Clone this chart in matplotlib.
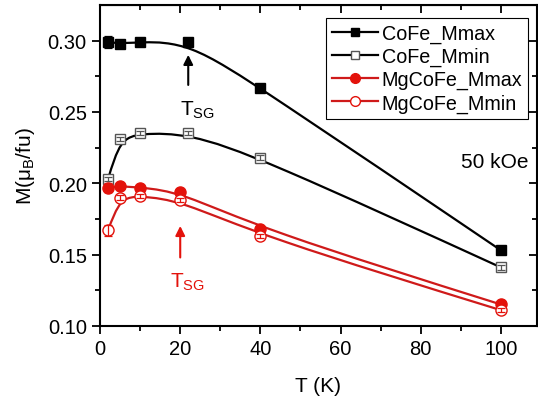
import matplotlib
matplotlib.use("Agg")
import matplotlib.pyplot as plt
from matplotlib.path import Path
from matplotlib.patches import PathPatch
from matplotlib.lines import Line2D
import numpy as np

plt.rcParams['font.family'] = ['Liberation Sans', 'DejaVu Sans']
plt.rcParams['mathtext.fontset'] = 'custom'
plt.rcParams['mathtext.rm'] = 'Liberation Sans'

# data
T_cofe = [2, 5, 10, 22, 40, 100]
cofe_max = [0.299, 0.298, 0.299, 0.299, 0.267, 0.153]
cofe_max_err = [0.004, 0.0, 0.0, 0.0, 0.0, 0.0]
cofe_min = [0.203, 0.231, 0.235, 0.235, 0.218, 0.141]
cofe_min_err = [0.0015, 0.0015, 0.0015, 0.0015, 0.0015, 0.0015]

T_mg = [2, 5, 10, 20, 40, 100]
mg_max = [0.197, 0.198, 0.197, 0.194, 0.168, 0.115]
mg_max_err = [0.003, 0.0, 0.0, 0.0, 0.0, 0.0]
mg_min = [0.167, 0.190, 0.191, 0.188, 0.163, 0.111]
mg_min_err = [0.004, 0.0015, 0.0015, 0.0015, 0.0015, 0.0015]

RED = '#e3120b'
RED_LINE = '#cf1a1a'


def bspline_path(x, y):
    # Origin style B-spline: the points act as control points
    p = np.column_stack([x, y]).astype(float)
    q = np.vstack([2 * p[0] - p[1], p, 2 * p[-1] - p[-2]])
    verts = [tuple((q[0] + 4 * q[1] + q[2]) / 6.0)]
    codes = [Path.MOVETO]
    for i in range(len(q) - 3):
        b1 = (2 * q[i + 1] + q[i + 2]) / 3.0
        b2 = (q[i + 1] + 2 * q[i + 2]) / 3.0
        b3 = (q[i + 1] + 4 * q[i + 2] + q[i + 3]) / 6.0
        verts += [tuple(b1), tuple(b2), tuple(b3)]
        codes += [Path.CURVE4] * 3
    return Path(verts, codes)


fig = plt.figure(figsize=(5.38, 4.02), dpi=100)
ax = fig.add_axes([0.186, 0.187, 0.812, 0.798])

series = [
    (T_cofe, cofe_max, cofe_max_err, 's', 'black', 'black', 'black', 'CoFe_Mmax', 6.5),
    (T_cofe, cofe_min, cofe_min_err, 's', 'white', 'black', '#555555', 'CoFe_Mmin', 6.5),
    (T_mg, mg_max, mg_max_err, 'o', RED, RED_LINE, RED, 'MgCoFe_Mmax', 8),
    (T_mg, mg_min, mg_min_err, 'o', 'white', RED_LINE, RED, 'MgCoFe_Mmin', 8),
]

handles = []
for x, y, err, mk, fc, lc, ec, lab, ms in series:
    ax.add_patch(PathPatch(bspline_path(x, y), fill=False, edgecolor=lc, lw=1.6, zorder=2))
    ax.plot(x, y, ls='none', marker=mk, ms=ms, mfc=fc, mec=ec, mew=1.0, zorder=3)
    ax.errorbar(x, y, yerr=err, fmt='none', ecolor=ec, elinewidth=0.9, capsize=3,
                capthick=0.9, zorder=4)
    handles.append(Line2D([], [], color=lc, lw=1.6, marker=mk, ms=ms - 1, mfc=fc, mec=ec,
                          label=lab))

ax.set_xlim(0, 109)
ax.set_ylim(0.10, 0.325)
ax.set_xticks([0, 20, 40, 60, 80, 100])
ax.set_xticks([10, 30, 50, 70, 90], minor=True)
ax.set_yticks([0.10, 0.15, 0.20, 0.25, 0.30])
ax.set_yticks([0.125, 0.175, 0.225, 0.275], minor=True)
ax.set_yticklabels(['0.10', '0.15', '0.20', '0.25', '0.30'])

for s in ax.spines.values():
    s.set_linewidth(1.5)
ax.tick_params(which='both', direction='out', labelsize=14.5, width=1.3)
ax.tick_params(which='major', length=6)
ax.tick_params(which='minor', length=3.5)

# mirrored axes with inward ticks on top / right
sec_x = ax.secondary_xaxis('top')
sec_x.set_xticks([0, 20, 40, 60, 80, 100])
sec_x.set_xticks([10, 30, 50, 70, 90], minor=True)
sec_x.tick_params(which='both', direction='in', labeltop=False, width=1.3)
sec_x.tick_params(which='major', length=6)
sec_x.tick_params(which='minor', length=3.5)
sec_y = ax.secondary_yaxis('right')
sec_y.set_yticks([0.10, 0.15, 0.20, 0.25, 0.30])
sec_y.set_yticks([0.125, 0.175, 0.225, 0.275], minor=True)
sec_y.tick_params(which='both', direction='in', labelright=False, width=1.3)
sec_y.tick_params(which='major', length=6)
sec_y.tick_params(which='minor', length=3.5)

ax.set_xlabel('T (K)', fontsize=15, labelpad=13)
ax.set_ylabel('M(μ$_\\mathregular{B}$/fu)', fontsize=15, labelpad=8)

# spin glass markers
ax.annotate('', xy=(22, 0.292), xytext=(22, 0.267),
            arrowprops=dict(arrowstyle='-|>', color='black', lw=1.5, mutation_scale=14))
ax.text(20, 0.252, '$\\mathregular{T_{SG}}$', fontsize=15, color='black', va='center')
ax.annotate('', xy=(20, 0.172), xytext=(20, 0.146),
            arrowprops=dict(arrowstyle='-|>', color=RED, lw=1.5, mutation_scale=14))
ax.text(17.5, 0.131, '$\\mathregular{T_{SG}}$', fontsize=15, color=RED, va='center')

ax.text(90, 0.215, '50 kOe', fontsize=15, va='center')

leg = ax.legend(handles=handles, loc='upper right', bbox_to_anchor=(0.98, 0.96),
                fontsize=14.2, handlelength=2.3, handletextpad=0.2, borderpad=0.3,
                labelspacing=0.2, fancybox=False, framealpha=1, borderaxespad=0)
leg.get_frame().set_edgecolor('black')
leg.get_frame().set_linewidth(0.8)

plt.savefig('out.png', dpi=100)
